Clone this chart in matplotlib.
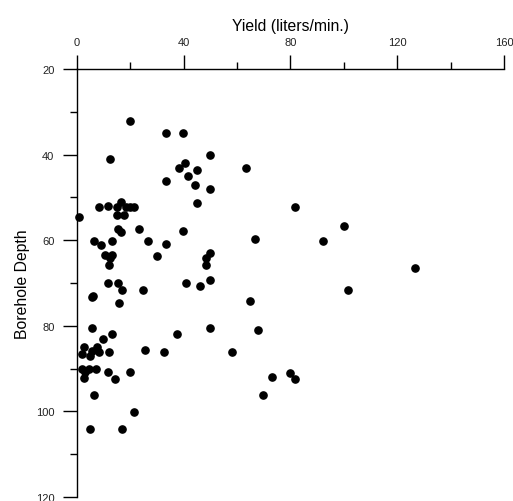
import numpy as np
import matplotlib.pyplot as plt
from matplotlib.ticker import MultipleLocator

plt.rcParams['font.family'] = ['Liberation Sans', 'DejaVu Sans']

# Yield (liters/min.) and borehole depth for each well
yield_lpm = [
    20.0, 33.3, 39.9, 12.4, 40.4, 38.2, 45.1, 41.6, 33.3, 44.3, 45.1, 8.5, 11.6,
    15.0, 16.6, 18.4, 20.0, 21.6, 15.0, 17.8, 1.0,
    15.4, 16.5, 23.3, 39.9, 6.5, 9.1, 13.1, 26.6, 33.3, 10.6, 13.1, 12.5, 30.0,
    12.0, 11.8, 15.6, 17.0, 25.0, 40.8, 46.1, 5.6, 6.2, 16.0,
    5.6, 13.2, 10.0, 37.5, 2.9, 7.7, 5.6, 8.4, 1.9, 5.0, 12.0, 25.5, 32.8,
    2.1, 4.7, 7.3, 3.2, 2.9, 11.6, 14.5, 20.0, 6.5, 21.6, 5.0, 17.0,
    49.9, 63.3, 49.9, 81.6, 100.0,
    66.7, 92.4, 49.9, 48.3, 48.3, 49.9, 65.0, 101.6, 49.9, 68.0,
    58.3, 73.3, 80.0, 81.6, 69.9, 126.8,
]
depth = [
    32.1, 35.0, 34.9, 41.1, 42.0, 43.1, 43.7, 45.1, 46.2, 47.1, 51.3, 52.2, 52.1,
    52.2, 51.1, 52.2, 52.2, 52.2, 54.0, 54.0, 54.5,
    57.5, 58.0, 57.5, 57.9, 60.1, 61.1, 60.1, 60.1, 60.9, 63.4, 63.5, 64.1, 63.8,
    65.8, 70.0, 70.0, 71.6, 71.6, 70.0, 70.8, 73.3, 73.0, 74.7,
    80.5, 81.9, 83.1, 81.9, 85.0, 85.0, 86.0, 86.1, 86.7, 87.1, 86.2, 85.6, 86.2,
    90.1, 90.1, 90.1, 90.9, 92.3, 90.7, 92.4, 90.8, 96.1, 100.1, 104.0, 104.0,
    40.1, 43.1, 48.1, 52.2, 56.8,
    59.8, 60.1, 63.1, 64.1, 65.8, 69.4, 74.1, 71.7, 80.6, 81.1,
    86.1, 92.0, 91.1, 92.4, 96.1, 66.4,
]

fig = plt.figure(figsize=(5.13, 5.02), dpi=100)
ax = fig.add_axes([0.1495, 0.008, 0.833, 0.8526])

ax.plot(yield_lpm, depth, 'o', color='black', markersize=5.2, clip_on=False)

ax.set_xlim(0, 160)
ax.set_ylim(120, 20)

ax.spines['right'].set_visible(False)
ax.spines['bottom'].set_visible(False)
ax.spines['top'].set_linewidth(1.0)
ax.spines['left'].set_linewidth(1.0)

ax.xaxis.tick_top()
ax.xaxis.set_label_position('top')
ax.xaxis.set_major_locator(MultipleLocator(40))
ax.xaxis.set_minor_locator(MultipleLocator(20))
ax.yaxis.set_major_locator(MultipleLocator(20))
ax.yaxis.set_minor_locator(MultipleLocator(10))

ax.tick_params(which='major', direction='out', length=10, width=1.0,
               labelsize=8, labelcolor='#222222', pad=6)
ax.tick_params(which='minor', direction='out', length=5, width=1.0)

ax.set_xlabel('Yield (liters/min.)', fontsize=11.3, labelpad=5)
ax.set_ylabel('Borehole Depth', fontsize=11.3, labelpad=4)

fig.savefig('out.png', dpi=100)
